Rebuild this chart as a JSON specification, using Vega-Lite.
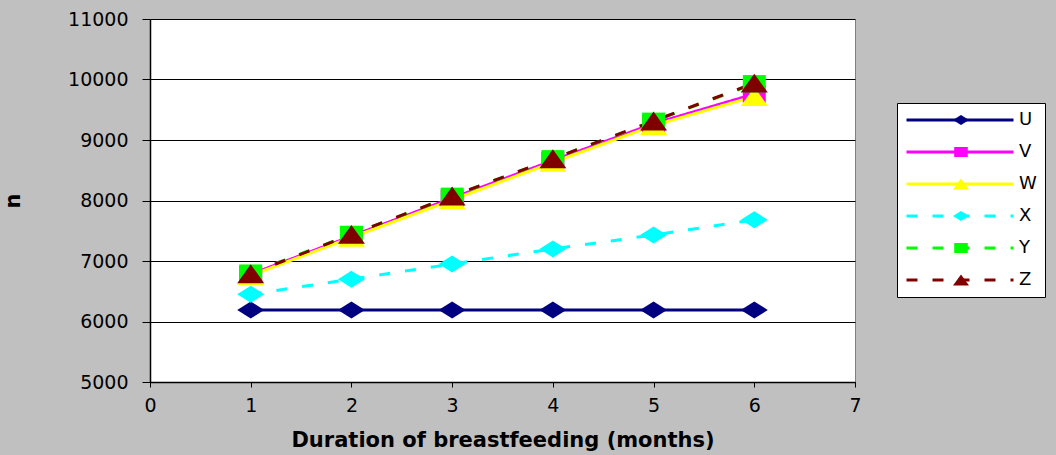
{
  "$schema": "https://vega.github.io/schema/vega-lite/v6.json",
  "width": 705,
  "height": 363,
  "autosize": "none",
  "padding": {"left": 150, "top": 19, "right": 201, "bottom": 73},
  "background": "#c0c0c0",
  "config": {
    "view": {"fill": "white", "stroke": "#808080", "strokeWidth": 1},
    "axis": {
      "domainColor": "black",
      "domainWidth": 1.5,
      "tickColor": "black",
      "tickWidth": 1,
      "labelColor": "black",
      "labelFont": "DejaVu Sans",
      "labelFontSize": 19,
      "titleColor": "black",
      "titleFont": "DejaVu Sans",
      "titleFontWeight": "bold",
      "titleFontSize": 21
    }
  },
  "data": {
    "values": [
      {"m": 1, "s": "U", "n": 6190}, {"m": 2, "s": "U", "n": 6190}, {"m": 3, "s": "U", "n": 6190},
      {"m": 4, "s": "U", "n": 6190}, {"m": 5, "s": "U", "n": 6190}, {"m": 6, "s": "U", "n": 6190},
      {"m": 1, "s": "V", "n": 6780}, {"m": 2, "s": "V", "n": 7410}, {"m": 3, "s": "V", "n": 8040},
      {"m": 4, "s": "V", "n": 8660}, {"m": 5, "s": "V", "n": 9270}, {"m": 6, "s": "V", "n": 9760},
      {"m": 1, "s": "W", "n": 6760}, {"m": 2, "s": "W", "n": 7390}, {"m": 3, "s": "W", "n": 8010},
      {"m": 4, "s": "W", "n": 8630}, {"m": 5, "s": "W", "n": 9240}, {"m": 6, "s": "W", "n": 9720},
      {"m": 1, "s": "X", "n": 6450}, {"m": 2, "s": "X", "n": 6700}, {"m": 3, "s": "X", "n": 6950},
      {"m": 4, "s": "X", "n": 7200}, {"m": 5, "s": "X", "n": 7430}, {"m": 6, "s": "X", "n": 7680},
      {"m": 1, "s": "Y", "n": 6800}, {"m": 2, "s": "Y", "n": 7440}, {"m": 3, "s": "Y", "n": 8070},
      {"m": 4, "s": "Y", "n": 8690}, {"m": 5, "s": "Y", "n": 9310}, {"m": 6, "s": "Y", "n": 9930},
      {"m": 1, "s": "Z", "n": 6790}, {"m": 2, "s": "Z", "n": 7440}, {"m": 3, "s": "Z", "n": 8075},
      {"m": 4, "s": "Z", "n": 8690}, {"m": 5, "s": "Z", "n": 9315}, {"m": 6, "s": "Z", "n": 9940}
    ]
  },
  "encoding": {
    "x": {
      "field": "m",
      "type": "quantitative",
      "title": "Duration of breastfeeding (months)",
      "scale": {"domain": [0, 7], "nice": false, "zero": false},
      "axis": {"values": [0, 1, 2, 3, 4, 5, 6, 7], "grid": false, "tickSize": 5, "labelPadding": 9, "titlePadding": 14, "labelFlush": false}
    },
    "y": {
      "field": "n",
      "type": "quantitative",
      "title": "n",
      "scale": {"domain": [5000, 11000], "nice": false, "zero": false},
      "axis": {"values": [5000, 6000, 7000, 8000, 9000, 10000, 11000], "format": "d", "grid": true, "gridColor": "black", "gridWidth": 1, "gridOpacity": 1, "tickSize": 8, "labelPadding": 14, "titlePadding": 44, "labelFlush": false}
    }
  },
  "layer": [
    {
      "mark": {"type": "line", "strokeWidth": 3},
      "encoding": {
        "color": {
          "field": "s", "type": "nominal",
          "scale": {"domain": ["U", "V", "W", "X", "Y", "Z"], "range": ["#000080", "#ff00ff", "#ffff00", "#00ffff", "#00ff00", "#800000"]},
          "legend": {"title": null, "orient": "none", "legendX": 747, "legendY": 84, "symbolType": "stroke", "symbolSize": 11449, "symbolStrokeWidth": 3, "clipHeight": 18, "rowPadding": 14, "padding": 8, "fillColor": "white", "strokeColor": "black", "labelFont": "DejaVu Sans", "labelFontSize": 18, "labelColor": "black", "labelOffset": 4}
        },
        "strokeDash": {
          "field": "s", "type": "nominal",
          "scale": {"domain": ["U", "V", "W", "X", "Y", "Z"], "range": [[1, 0], [1, 0], [1, 0], [11, 15], [11, 15], [11, 15]]},
          "legend": {"title": null, "orient": "none", "legendX": 747, "legendY": 84, "symbolType": "stroke", "symbolSize": 11449, "symbolStrokeWidth": 3, "clipHeight": 18, "rowPadding": 14, "padding": 8, "fillColor": "white", "strokeColor": "black", "labelFont": "DejaVu Sans", "labelFontSize": 18, "labelColor": "black", "labelOffset": 4}
        }
      }
    },
    {
      "mark": {"type": "point", "filled": true, "opacity": 1, "size": 729, "strokeWidth": 0},
      "encoding": {
        "color": {
          "field": "s", "type": "nominal",
          "scale": {"domain": ["U", "V", "W", "X", "Y", "Z"], "range": ["#000080", "#ff00ff", "#ffff00", "#00ffff", "#00ff00", "#800000"]},
          "legend": {"title": null, "orient": "none", "legendX": 747, "legendY": 84, "symbolSize": 256, "symbolStrokeWidth": 0, "symbolOffset": 47, "clipHeight": 18, "rowPadding": 14, "padding": 8, "labelFont": "DejaVu Sans", "labelFontSize": 18, "labelOpacity": 0}
        },
        "shape": {
          "field": "s", "type": "nominal",
          "scale": {"domain": ["U", "V", "W", "X", "Y", "Z"], "range": ["M-1,0L0,-0.63L1,0L0,0.63Z", "M-0.85,-0.64H0.85V0.64H-0.85Z", "M0,-0.7L1,0.7L-1,0.7Z", "M-1,0L0,-0.63L1,0L0,0.63Z", "M-0.85,-0.64H0.85V0.64H-0.85Z", "M0,-0.7L1,0.7L-1,0.7Z"]},
          "legend": {"title": null, "orient": "none", "legendX": 747, "legendY": 84, "symbolSize": 256, "symbolStrokeWidth": 0, "symbolOffset": 47, "clipHeight": 18, "rowPadding": 14, "padding": 8, "labelFont": "DejaVu Sans", "labelFontSize": 18, "labelOpacity": 0}
        }
      }
    }
  ],
  "resolve": {
    "scale": {"color": "independent", "strokeDash": "independent", "shape": "independent"},
    "legend": {"color": "independent", "strokeDash": "independent", "shape": "independent"}
  }
}
